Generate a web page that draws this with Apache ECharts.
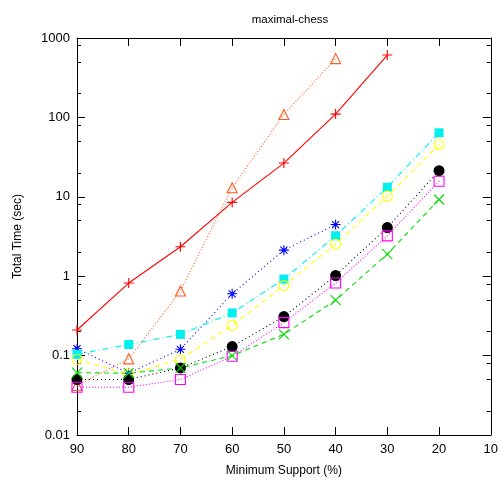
<!DOCTYPE html>
<html><head><meta charset="utf-8">
<script src="https://cdn.jsdelivr.net/npm/echarts@6/dist/echarts.min.js"></script>
<style>html,body{margin:0;padding:0;background:#fff}#c{width:501px;height:482px}</style>
</head><body><div id="c"></div>
<script>
const supports = [90, 80, 70, 60, 50, 40, 30, 20];
const yMajorTicks = [0.01, 0.1, 1, 10, 100, 1000];
const yMinorTicks = [0.02,0.05,0.08,0.2,0.5,0.8,2,5,8,20,50,80,200,500,800];
const sRed     = [0.21, 0.82, 2.35, 8.5, 26.6, 110, 610, null];
const sOrange  = [0.042, 0.091, 0.65, 13, 109, 550, null, null];
const sBlue    = [0.122, 0.06, 0.12, 0.6, 2.13, 4.47, null, null];
const sCyan    = [0.104, 0.138, 0.185, 0.345, 0.92, 3.23, 13.2, 64];
const sYellow  = [0.09, 0.058, 0.09, 0.24, 0.76, 2.53, 10.2, 45.6];
const sBlack   = [0.05, 0.05, 0.07, 0.13, 0.31, 1.02, 4.1, 21.3];
const sMagenta = [0.04, 0.04, 0.05, 0.098, 0.26, 0.82, 3.22, 15.7];
const sGreen   = [0.061, 0.06, 0.07, 0.1, 0.185, 0.5, 1.9, 9.25];

const FONT = '"Liberation Sans", Arial, sans-serif';
const P_PLUS = 'path://M5 0L5 10M0 5L10 5';
const P_STAR = 'path://M5 0L5 10M0 5L10 5M1.5 1.5L8.5 8.5M8.5 1.5L1.5 8.5';
const P_X = 'path://M0 0L10 10M10 0L0 10';

function mk(data, color, symbol, dash, filled, size) {
  return {
    type: 'line',
    data: supports.map((s, i) => [s, data[i]]).filter(d => d[1] != null),
    symbol: symbol,
    symbolSize: size || 10,
    showSymbol: true,
    lineStyle: { color: color, width: 1.1, type: dash },
    itemStyle: filled ? { color: color, borderWidth: 0 } : { color: 'none', borderColor: color, borderWidth: 1.1 },
    emphasis: { disabled: true },
    animation: false,
    z: 3
  };
}

const chart = echarts.init(document.getElementById('c'));
const yBase = { type: 'log', logBase: 10, min: 0.01, max: 1000, splitLine: { show: false } };
chart.setOption({
  backgroundColor: '#fff',
  animation: false,
  title: { text: 'maximal-chess', left: 285, textAlign: 'center', top: 9,
    textStyle: { fontFamily: FONT, fontSize: 11.5, fontWeight: 'normal', color: '#000' } },
  grid: { left: 77, right: 8, top: 38, bottom: 44, containLabel: false },
  xAxis: [
    { type: 'value', min: 10, max: 90, interval: 10, inverse: true, position: 'bottom',
      name: 'Minimum Support (%)', nameLocation: 'middle', nameGap: 30,
      nameTextStyle: { fontFamily: FONT, fontSize: 12, color: '#000' },
      axisLine: { lineStyle: { color: '#000', width: 1 } },
      axisTick: { inside: true, length: 8, lineStyle: { color: '#000' } },
      axisLabel: { fontFamily: FONT, fontSize: 13, color: '#000', margin: 8 },
      splitLine: { show: false } },
    { type: 'value', min: 10, max: 90, interval: 10, inverse: true, position: 'top',
      axisLine: { lineStyle: { color: '#000', width: 1 } },
      axisTick: { inside: true, length: 8, lineStyle: { color: '#000' } },
      axisLabel: { show: false }, splitLine: { show: false } }
  ],
  yAxis: [
    Object.assign({}, yBase, { position: 'left',
      name: 'Total Time (sec)', nameLocation: 'middle', nameGap: 53,
      nameTextStyle: { fontFamily: FONT, fontSize: 12, color: '#000' },
      axisLine: { lineStyle: { color: '#000', width: 1 } },
      axisTick: { inside: true, length: 8, lineStyle: { color: '#000' }, customValues: yMajorTicks },
      axisLabel: { fontFamily: FONT, fontSize: 13, color: '#000', margin: 7, customValues: yMajorTicks,
        formatter: v => String(v) } }),
    Object.assign({}, yBase, { position: 'left',
      axisLine: { show: false },
      axisTick: { inside: true, length: 4, lineStyle: { color: '#000' }, customValues: yMinorTicks },
      axisLabel: { show: false } }),
    Object.assign({}, yBase, { position: 'right',
      axisLine: { lineStyle: { color: '#000', width: 1 } },
      axisTick: { inside: true, length: 8, lineStyle: { color: '#000' }, customValues: yMajorTicks },
      axisLabel: { show: false } }),
    Object.assign({}, yBase, { position: 'right',
      axisLine: { show: false },
      axisTick: { inside: true, length: 4, lineStyle: { color: '#000' }, customValues: yMinorTicks },
      axisLabel: { show: false } })
  ],
  series: [
    mk(sRed, '#ff0000', P_PLUS, 'solid', false, 10),
    mk(sOrange, '#ff5a1e', 'triangle', [1, 2], false, 10),
    mk(sBlue, '#0000ff', P_STAR, [1, 3], false, 10),
    mk(sCyan, '#00f0f0', 'rect', [6, 3, 1, 3], true, 9),
    mk(sYellow, '#ffff00', 'circle', [5, 4], false, 10),
    mk(sBlack, '#000000', 'circle', [1, 3], true, 11),
    mk(sMagenta, '#ff00ff', 'rect', [1, 2], false, 10),
    mk(sGreen, '#00dd00', P_X, [5, 4], false, 10)
  ]
});
</script></body></html>
